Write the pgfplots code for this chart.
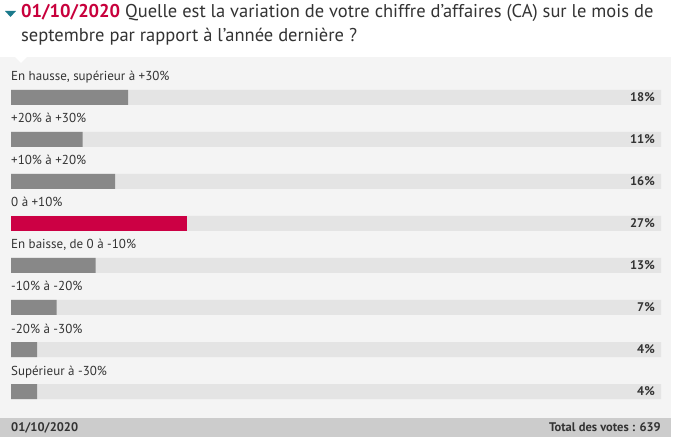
\documentclass[border=0pt]{standalone}
\usepackage{pgfplots}
\pgfplotsset{compat=1.18}
\usepackage{fontspec}
\setmainfont{PT Sans}

\definecolor{panel}{HTML}{F4F4F4}
\definecolor{track}{HTML}{E4E4E4}
\definecolor{bargray}{HTML}{888888}
\definecolor{barred}{HTML}{CC0044}
\definecolor{foot}{HTML}{CCCCCC}
\definecolor{txt}{HTML}{333333}
\definecolor{datered}{HTML}{C8003C}
\definecolor{teal}{HTML}{1B7A8C}

\begin{document}
\begin{tikzpicture}[x=1pt,y=1pt]
% page = 676 x 446 px, y counted from the bottom
\path[use as bounding box, fill=white] (0,0) rectangle (676,446);

% grey panel with the little notch under the title
\fill[panel] (0,28) rectangle (671,389);
\fill[white] (15,389) -- (27,389) -- (21,383) -- cycle;

% footer strip
\fill[foot] (0,9) rectangle (671,28);
\node[anchor=base west, inner sep=0pt, text=txt, font=\fontsize{12.5}{14}\selectfont\bfseries] at (11,14) {01/10/2020};
\node[anchor=base east, inner sep=0pt, text=txt, font=\fontsize{12.5}{14}\selectfont\bfseries] at (661,14) {Total des votes : 639};

% title
\fill[teal] (5,435) -- (16,435) -- (10.5,429) -- cycle;
\node[anchor=base west, inner sep=0pt, text=txt, font=\fontsize{18.5}{20}\selectfont] at (21,428)
  {\textcolor{datered}{\bfseries 01/10/2020} Quelle est la variation de votre chiffre d'affaires (CA) sur le mois de};
\node[anchor=base west, inner sep=0pt, text=txt, font=\fontsize{18.5}{20}\selectfont] at (21,404)
  {septembre par rapport à l'année dernière ?};

\begin{axis}[
    at={(11pt,369.5pt)}, anchor=north west,
    scale only axis, width=650pt, height=336pt,
    xmin=0, xmax=100, ymin=-0.5, ymax=7.5,
    y dir=reverse, hide axis, clip=false,
    xbar, bar width=15pt, bar shift=0pt,
    /pgf/number format/assume math mode=true,
]
% empty tracks, with the share printed at their right end
\addplot[fill=track, draw=none,
    point meta=explicit,
    nodes near coords={\pgfmathprintnumber{\pgfplotspointmeta}\%},
    every node near coord/.append style={anchor=east, xshift=-6pt, inner sep=0pt,
        text=txt, font=\fontsize{12.5}{14}\selectfont\bfseries},
] table[meta=v] {
x   y v
100 0 18
100 1 11
100 2 16
100 3 27
100 4 13
100 5 7
100 6 4
100 7 4
};
% answers
\addplot[fill=bargray, draw=none] table {
x  y
18 0
11 1
16 2
13 4
7  5
4  6
4  7
};
% leading answer
\addplot[fill=barred, draw=none] table {
x  y
27 3
};

\begin{scope}[every node/.style={anchor=base west, inner sep=0pt, text=txt, font=\fontsize{13}{15}\selectfont}]
\node at (axis cs:0,0) [yshift=16.5pt] {En hausse, supérieur à +30\%};
\node at (axis cs:0,1) [yshift=16.5pt] {+20\% à +30\%};
\node at (axis cs:0,2) [yshift=16.5pt] {+10\% à +20\%};
\node at (axis cs:0,3) [yshift=16.5pt] {0 à +10\%};
\node at (axis cs:0,4) [yshift=16.5pt] {En baisse, de 0 à -10\%};
\node at (axis cs:0,5) [yshift=16.5pt] {-10\% à -20\%};
\node at (axis cs:0,6) [yshift=16.5pt] {-20\% à -30\%};
\node at (axis cs:0,7) [yshift=16.5pt] {Supérieur à -30\%};
\end{scope}
\end{axis}
\end{tikzpicture}
\end{document}
